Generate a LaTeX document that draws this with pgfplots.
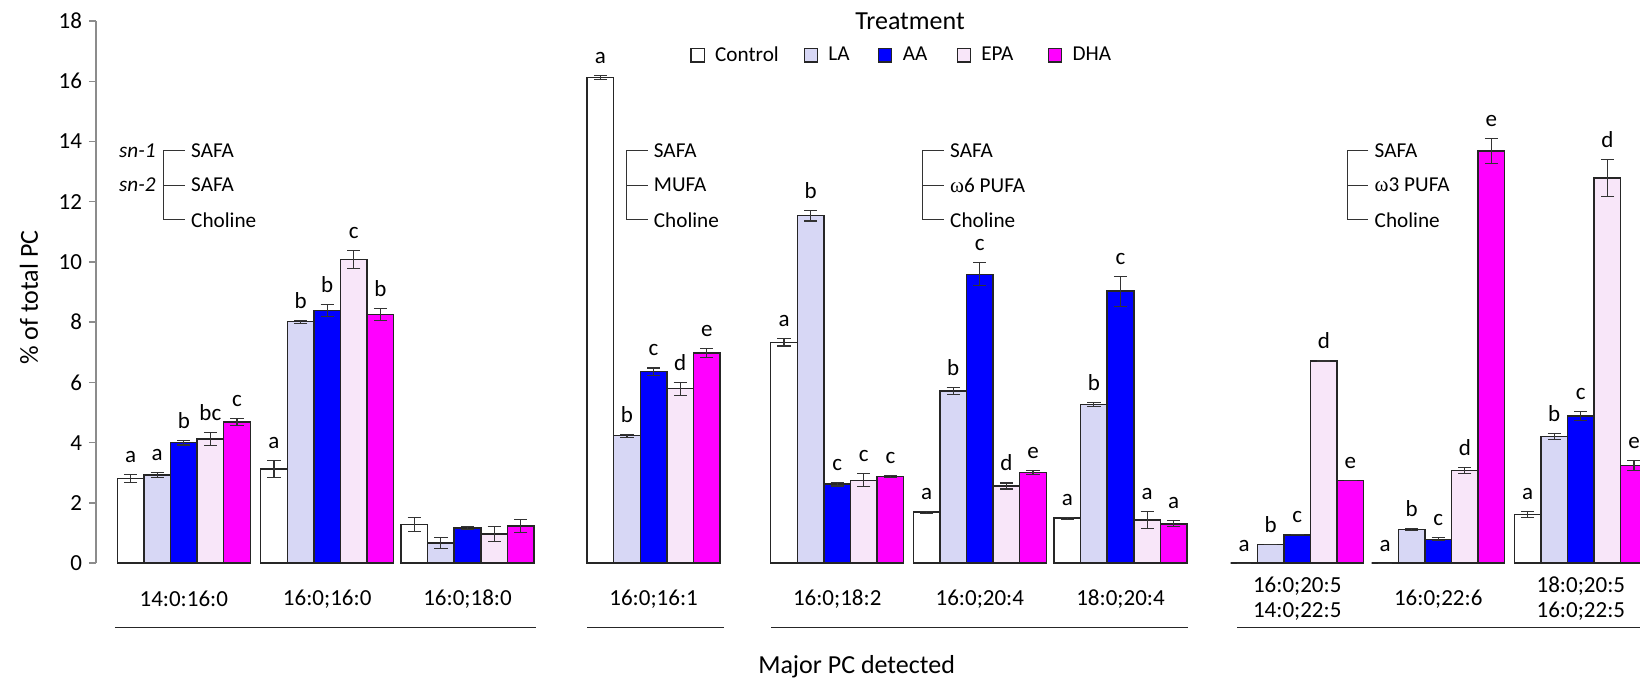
\documentclass[border=0pt]{standalone}
\usepackage{fontspec}
\setmainfont{Carlito}
\newfontfamily\symfont{Liberation Serif}
\usepackage{pgfplots}
\pgfplotsset{compat=1.18}
\usepackage{pgfplotstable}

\definecolor{cLA}{HTML}{D7D7F5}
\definecolor{cAA}{HTML}{0000FF}
\definecolor{cEPA}{HTML}{F8E6F9}
\definecolor{cDHA}{HTML}{FF00FF}
\definecolor{edge}{HTML}{262626}
\definecolor{errc}{HTML}{333333}
\definecolor{axc}{HTML}{8C8C8C}

\newcommand\fA{\fontsize{11.5}{12.5}\selectfont}
\newcommand\fB{\fontsize{13}{15}\selectfont}
\newcommand\fC{\fontsize{10.6}{12}\selectfont}

% #1 = x of vertical line, #2 = x of tick ends, #3 = x of text, #4 = middle text
\newcommand\bracket[4]{%
  \draw[draw=black!80, line width=0.55pt] (axis cs:#2,13.70) -- (axis cs:#1,13.70) -- (axis cs:#1,11.40) -- (axis cs:#2,11.40);
  \draw[draw=black!80, line width=0.55pt] (axis cs:#1,12.55) -- (axis cs:#2,12.55);
  \node[font=\fC, anchor=west, inner sep=0pt] at (axis cs:#3,13.70) {SAFA};
  \node[font=\fC, anchor=west, inner sep=0pt] at (axis cs:#3,12.55) {#4};
  \node[font=\fC, anchor=west, inner sep=0pt] at (axis cs:#3,11.40) {Choline};
}

% x = bar centre (picture px), y = % of total PC, e = error, l = letter
\pgfplotstableread{
x y e l
130.6 2.81 0.14 a
274.0 3.12 0.29 a
414.3 1.28 0.22 {}
600.4 16.12 0.07 a
784.0 7.33 0.12 a
926.6 1.69 0.03 a
1067.3 1.49 0.03 a
1244.0 0 0 a
1385.0 0 0 a
1527.6 1.62 0.10 a
}\ctrl
\pgfplotstableread{
x y e l
157.2 2.93 0.08 a
300.6 8.02 0.05 b
440.9 0.66 0.18 {}
627.0 4.23 0.05 b
810.6 11.54 0.18 b
953.2 5.71 0.12 b
1093.9 5.26 0.06 b
1270.6 0.62 0 b
1411.6 1.12 0.03 b
1554.2 4.20 0.10 b
}\la
\pgfplotstableread{
x y e l
183.8 4.00 0.08 b
327.2 8.39 0.19 b
467.5 1.17 0.05 {}
653.6 6.36 0.12 c
837.2 2.62 0.06 c
979.8 9.59 0.38 c
1120.5 9.03 0.50 c
1297.2 0.94 0 c
1438.2 0.79 0.05 c
1580.8 4.88 0.16 c
}\aa
\pgfplotstableread{
x y e l
210.4 4.12 0.22 bc
353.8 10.08 0.31 c
494.1 0.97 0.25 {}
680.2 5.79 0.22 d
863.8 2.75 0.22 c
1006.4 2.56 0.10 d
1147.1 1.43 0.29 a
1323.8 6.71 0.02 d
1464.8 3.07 0.09 d
1607.4 12.79 0.62 d
}\epa
\pgfplotstableread{
x y e l
237.0 4.68 0.12 c
380.4 8.26 0.19 b
520.7 1.23 0.22 {}
706.8 6.98 0.15 e
890.4 2.87 0.03 c
1033.0 3.00 0.06 e
1173.7 1.30 0.10 a
1350.4 2.75 0 e
1491.4 13.68 0.41 e
1634.0 3.24 0.17 e
}\dha

\pgfplotsset{
  mybar/.style={ybar, bar width=26.6, bar shift=0pt, draw=edge, line width=0.75pt,
    error bars/.cd, y dir=both, y explicit,
      error bar style={line width=0.55pt, draw=errc},
      error mark options={rotate=90, line width=0.55pt, mark size=3.3pt, draw=errc},
    /pgfplots/.cd,
    legend image code/.code={\draw[##1, line width=0.6pt] (0pt,-3.3pt) rectangle (6.6pt,3.3pt);}},
  letters/.style={forget plot, only marks, mark=none, nodes near coords,
    point meta=explicit symbolic,
    nodes near coords style={anchor=base, inner sep=0pt, font=\fA, text=black}},
}

\begin{document}
\begin{tikzpicture}
\begin{axis}[
  scale only axis, width=772pt, height=271pt,
  xmin=96, xmax=1640, ymin=0, ymax=18,
  clip=false,
  axis y line*=left, axis x line*=bottom,
  x axis line style={draw=none},
  y axis line style={draw=axc, line width=0.7pt},
  xtick style={draw=none},
  ytick style={draw=axc, line width=0.7pt},
  tick align=outside, major tick length=3.5pt,
  ytick={0,2,...,18},
  /pgf/number format/assume math mode=true,
  yticklabel style={font=\fA},
  xtick={183.8,327.2,467.5,653.6,837.2,979.8,1120.5,1297.2,1438.2,1580.8},
  xticklabels={14:0:16:0,16:0;16:0,16:0;18:0,16:0;16:1,16:0;18:2,16:0;20:4,18:0;20:4,{16:0;20:5\\14:0;22:5},16:0;22:6,{18:0;20:5\\16:0;22:5}},
  xticklabel style={font=\fA, align=center, anchor=center, yshift=-14.4pt},
  ylabel={\% of total PC},
  ylabel style={font=\fB, at={(axis description cs:-0.0434,0.49)}, anchor=center},
  xlabel={Major PC detected},
  xlabel style={font=\fB, at={(axis description cs:0.4926,-0.1917)}, anchor=center},
  legend columns=5,
  legend style={draw=none, fill=none, inner sep=0pt, font=\fC,
    nodes={inner sep=0pt},
    at={(axis description cs:0.3847,0.9367)}, anchor=west,
    /tikz/every odd column/.append style={column sep=5.2pt},
    /tikz/every even column/.append style={column sep=0pt}},
  legend cell align=left,
]
\addplot[mybar, fill=white] table[x=x, y=y, y error=e] {\ctrl};
\addplot[mybar, fill=cLA] table[x=x, y=y, y error=e] {\la};
\addplot[mybar, fill=cAA] table[x=x, y=y, y error=e] {\aa};
\addplot[mybar, fill=cEPA] table[x=x, y=y, y error=e] {\epa};
\addplot[mybar, fill=cDHA] table[x=x, y=y, y error=e] {\dha};
\legend{\makebox[44.2pt][l]{Control},\makebox[24.8pt][l]{LA},\makebox[26.9pt][l]{AA},\makebox[33.2pt][l]{EPA},DHA}

\addplot[letters] table[x=x, y expr=\thisrow{y}+\thisrow{e}+0.4, meta=l] {\ctrl};
\addplot[letters] table[x=x, y expr=\thisrow{y}+\thisrow{e}+0.4, meta=l] {\la};
\addplot[letters] table[x=x, y expr=\thisrow{y}+\thisrow{e}+0.4, meta=l] {\aa};
\addplot[letters] table[x=x, y expr=\thisrow{y}+\thisrow{e}+0.4, meta=l] {\epa};
\addplot[letters] table[x=x, y expr=\thisrow{y}+\thisrow{e}+0.4, meta=l] {\dha};

% title of legend
\node[font=\fB] at (axis cs:910,18.0) {Treatment};

% underlines of the sections
\draw[draw=black!85, line width=0.55pt] (axis cs:115,-2.14) -- (axis cs:535.5,-2.14);
\draw[draw=black!85, line width=0.55pt] (axis cs:587,-2.14) -- (axis cs:724,-2.14);
\draw[draw=black!85, line width=0.55pt] (axis cs:771,-2.14) -- (axis cs:1188,-2.14);
\draw[draw=black!85, line width=0.55pt] (axis cs:1237,-2.14) -- (axis cs:1640,-2.14);

% structure brackets
\bracket{163.8}{184.8}{190.8}{SAFA}
\bracket{626.5}{647.5}{653.5}{MUFA}
\bracket{922.8}{943.8}{949.8}{{\symfont ω}6 PUFA}
\bracket{1347.3}{1368.3}{1374.3}{{\symfont ω}3 PUFA}
\node[font=\fC\itshape, anchor=east, inner sep=0pt] at (axis cs:156,13.70) {sn-1};
\node[font=\fC\itshape, anchor=east, inner sep=0pt] at (axis cs:156,12.55) {sn-2};

\coordinate (BL) at (axis cs:0,-3.82);
\coordinate (TR) at (axis cs:1640,18.70);
\end{axis}
\pgfresetboundingbox
\useasboundingbox (BL) rectangle (TR);
\end{tikzpicture}
\end{document}
